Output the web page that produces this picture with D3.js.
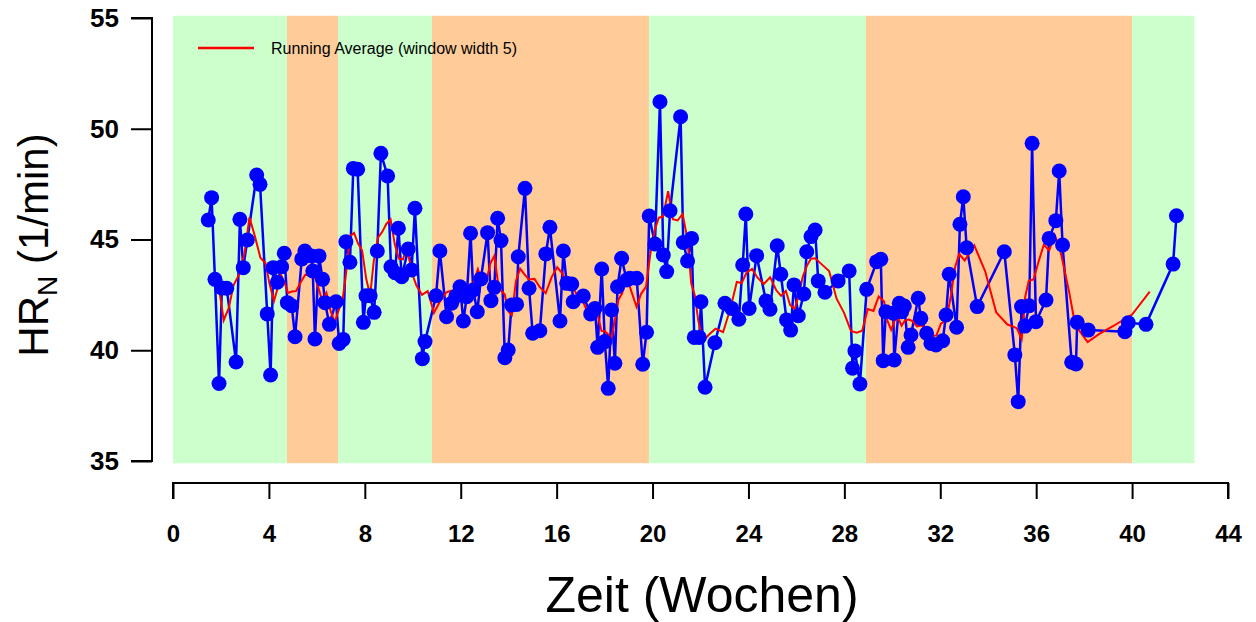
<!DOCTYPE html>
<html>
<head>
<meta charset="utf-8">
<script src="https://cdn.jsdelivr.net/npm/d3@7"></script>
<style>
  body { margin: 0; background: #fff; }
  text { font-family: 'Liberation Sans', Arial, sans-serif; }
</style>
</head>
<body>
<div id="chart"></div>
<script>
// measurement times (weeks) and normalised heart rate (1/min)
const weeks = [
  1.47, 1.61, 1.75, 1.92, 2.04, 2.24, 2.63, 2.79, 2.93, 3.10, 3.49, 3.63, 3.93, 4.07, 4.18, 4.35,
  4.53, 4.64, 4.77, 4.95, 5.09, 5.37, 5.50, 5.78, 5.83, 5.92, 6.09, 6.24, 6.34, 6.52, 6.80, 6.93,
  7.10, 7.21, 7.38, 7.52, 7.70, 7.94, 8.05, 8.22, 8.39, 8.52, 8.67, 8.95, 9.09, 9.26, 9.40, 9.54,
  9.81, 9.95, 10.09, 10.40, 10.51, 10.97, 11.13, 11.41, 11.62, 11.80, 11.97, 12.11, 12.25, 12.41,
  12.52, 12.69, 12.84, 13.12, 13.26, 13.40, 13.54, 13.68, 13.84, 13.98, 14.12, 14.33, 14.40, 14.68,
  14.85, 15.00, 15.30, 15.55, 15.72, 16.14, 16.28, 16.42, 16.63, 16.69, 17.11, 17.42, 17.60, 17.71,
  17.88, 18.01, 18.15, 18.29, 18.43, 18.54, 18.71, 18.92, 19.06, 19.34, 19.59, 19.75, 19.86, 20.10,
  20.31, 20.45, 20.59, 20.73, 21.17, 21.28, 21.46, 21.63, 21.74, 21.95, 22.02, 22.19, 22.60, 23.02,
  23.30, 23.60, 23.76, 23.89, 24.03, 24.34, 24.73, 24.90, 25.20, 25.35, 25.59, 25.76, 25.90, 26.08,
  26.31, 26.43, 26.61, 26.78, 26.91, 27.19, 27.74, 28.20, 28.34, 28.44, 28.65, 28.93, 29.35, 29.52,
  29.62, 29.73, 30.04, 30.08, 30.29, 30.39, 30.50, 30.66, 30.78, 31.08, 31.19, 31.43, 31.61, 31.82,
  32.10, 32.24, 32.37, 32.68, 32.82, 32.96, 33.10, 33.54, 34.67, 35.11, 35.25, 35.39, 35.53, 35.71,
  35.83, 35.99, 36.41, 36.54, 36.82, 36.96, 37.10, 37.48, 37.66, 37.71, 38.17, 39.70, 39.84, 40.58,
  41.71, 41.85
];
const heartRate = [
  45.88, 46.89, 43.20, 38.50, 42.81, 42.80, 39.47, 45.91, 43.73, 44.98, 47.91, 47.49, 41.64, 38.88, 43.73, 43.07,
  43.77, 44.38, 42.15, 42.01, 40.61, 44.12, 44.48, 44.26, 43.58, 40.51, 44.26, 43.20, 42.15, 41.17, 42.19, 40.31,
  40.49, 44.90, 43.97, 48.21, 48.17, 41.26, 42.46, 42.46, 41.71, 44.48, 48.89, 47.87, 43.77, 43.50, 45.51, 43.32,
  44.57, 43.62, 46.41, 39.62, 40.39, 42.46, 44.48, 41.51, 42.12, 42.45, 42.87, 41.32, 42.42, 45.28,
  42.72, 41.74, 43.22, 45.31, 42.24, 42.84, 45.96, 44.95, 39.66, 40.01, 42.04, 42.07, 44.22, 47.31,
  42.80, 40.77, 40.88, 44.35, 45.55, 41.32, 44.48, 43.02, 42.99, 42.19, 42.45, 41.64, 41.89, 40.13,
  43.67, 40.39, 38.28, 41.82, 39.41, 42.87, 44.15, 43.17, 43.25, 43.25, 39.37, 40.81, 46.06, 44.80,
  51.22, 44.30, 43.55, 46.30, 50.54, 44.87, 44.03, 45.05, 40.58, 40.58, 42.19, 38.33, 40.34, 42.12,
  41.89, 41.40, 43.85, 46.15, 41.89, 44.27, 42.22, 41.85, 44.72, 43.43, 41.37, 40.91, 42.95, 41.56,
  42.54, 44.45, 45.13, 45.43, 43.13, 42.62, 43.13, 43.58, 39.19, 39.97, 38.48, 42.75, 44.00, 44.11,
  39.53, 41.74, 41.67, 39.56, 42.12, 41.74, 42.00, 40.13, 40.69, 42.35, 41.44, 40.77, 40.31, 40.24,
  40.43, 41.59, 43.43, 41.04, 45.69, 46.93, 44.63, 41.97, 44.45, 39.79, 37.68, 41.97, 41.09, 42.01,
  49.34, 41.29, 42.27, 45.05, 45.85, 48.09, 44.75, 39.46, 39.38, 41.26, 40.91, 40.84, 41.24, 41.17,
  43.89, 46.07
];

// background phases (weeks): boundaries and colour of each band
const phaseBounds = [0, 4.75, 6.88, 10.8, 19.85, 28.9, 40.0, 42.6];
const phaseColors = ['#ccffcc', '#ffcc99', '#ccffcc', '#ffcc99', '#ccffcc', '#ffcc99', '#ccffcc'];

const yTicks = [35, 40, 45, 50, 55];
const xTicks = d3.range(0, 45, 4);
const windowWidth = 5;

const width = 1256;
const height = 622;

const x = d3.scaleLinear().domain([0, 44]).range([173, 1228]);
const y = d3.scaleLinear().domain([35, 55]).range([461, 18]);

const svg = d3
  .select('#chart')
  .append('svg')
  .attr('width', width)
  .attr('height', height);

// phase bands
const bands = phaseColors.map((c, i) => ({ x0: phaseBounds[i], x1: phaseBounds[i + 1], color: c }));
svg
  .append('g')
  .selectAll('rect')
  .data(bands)
  .enter()
  .append('rect')
  .attr('x', d => x(d.x0))
  .attr('width', d => x(d.x1) - x(d.x0))
  .attr('y', y(55.1))
  .attr('height', y(34.9) - y(55.1))
  .attr('fill', d => d.color);

const points = weeks.map((w, i) => ({ w: w, hr: heartRate[i] }));

// running average, window of 5 measurements (time and value)
const running = [];
for (let i = 0; i + windowWidth <= points.length; i++) {
  const win = points.slice(i, i + windowWidth);
  running.push({ w: d3.mean(win, d => d.w), hr: d3.mean(win, d => d.hr) });
}

const line = d3
  .line()
  .x(d => x(d.w))
  .y(d => y(d.hr));

svg
  .append('path')
  .datum(points)
  .attr('d', line)
  .attr('fill', 'none')
  .attr('stroke', '#0000ff')
  .attr('stroke-width', 2.5);

svg
  .append('path')
  .datum(running)
  .attr('d', line)
  .attr('fill', 'none')
  .attr('stroke', '#ff0000')
  .attr('stroke-width', 2);

svg
  .append('g')
  .selectAll('circle')
  .data(points)
  .enter()
  .append('circle')
  .attr('cx', d => x(d.w))
  .attr('cy', d => y(d.hr))
  .attr('r', 7.5)
  .attr('fill', '#0000ff');

// y axis (R style, detached)
const yAxis = d3
  .axisLeft(y)
  .tickValues(yTicks)
  .tickSize(21)
  .tickPadding(12);

const gy = svg
  .append('g')
  .attr('transform', 'translate(152,0)')
  .call(yAxis);
gy.select('.domain').attr('stroke-width', 2).attr('d', `M-21,${y(55)}H0V${y(35)}H-21`);
gy.selectAll('.tick line').attr('stroke-width', 2);
gy.selectAll('.tick text')
  .attr('font-size', 26)
  .attr('font-weight', 'bold')
  .attr('fill', '#000')
  .attr('font-family', "'Liberation Sans', Arial, sans-serif");

// x axis
const xAxis = d3
  .axisBottom(x)
  .tickValues(xTicks)
  .tickSize(16)
  .tickPadding(26);

const gx = svg
  .append('g')
  .attr('transform', 'translate(0,483)')
  .call(xAxis);
gx.select('.domain').attr('stroke-width', 2).attr('d', `M${x(0)},16V0H${x(44)}V16`);
gx.selectAll('.tick line').attr('stroke-width', 2);
gx.selectAll('.tick text')
  .attr('font-size', 24)
  .attr('font-weight', 'bold')
  .attr('fill', '#000')
  .attr('font-family', "'Liberation Sans', Arial, sans-serif");

// axis titles
const yTitle = svg
  .append('text')
  .attr('transform', 'translate(48,245) rotate(-90)')
  .attr('text-anchor', 'middle')
  .attr('font-size', 42);
yTitle.append('tspan').text('HR');
yTitle.append('tspan').attr('font-size', 28).attr('dy', 9).text('N');
yTitle.append('tspan').attr('dy', -9).text(' (1/min)');

svg
  .append('text')
  .attr('x', 702)
  .attr('y', 612)
  .attr('text-anchor', 'middle')
  .attr('font-size', 50)
  .text('Zeit (Wochen)');

// legend
svg
  .append('line')
  .attr('x1', 198)
  .attr('x2', 254)
  .attr('y1', 48)
  .attr('y2', 48)
  .attr('stroke', '#ff0000')
  .attr('stroke-width', 2.5);

svg
  .append('text')
  .attr('x', 271)
  .attr('y', 54)
  .attr('font-size', 16)
  .text('Running Average (window width 5)');
</script>
</body>
</html>
